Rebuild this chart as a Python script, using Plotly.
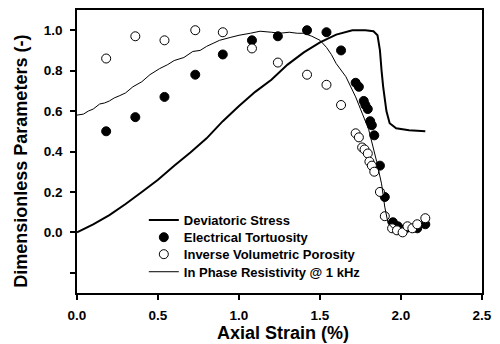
import plotly.graph_objects as go

# Deviatoric stress (thick line)
dev_x = [0, 0.1, 0.2, 0.3, 0.4, 0.5, 0.6, 0.7, 0.8, 0.9, 1.0, 1.1, 1.2, 1.3, 1.4, 1.5, 1.6, 1.7,
         1.78, 1.83, 1.855, 1.87, 1.88, 1.89, 1.91, 1.93, 1.97, 2.05, 2.15]
dev_y = [0, 0.04, 0.085, 0.14, 0.2, 0.26, 0.33, 0.395, 0.465, 0.55, 0.625, 0.695, 0.755, 0.83, 0.89, 0.94, 0.978, 1.0,
         1.0, 0.995, 0.975, 0.90, 0.80, 0.72, 0.60, 0.54, 0.515, 0.505, 0.50]

# Electrical tortuosity (filled circles)
tort_x = [0.18, 0.36, 0.54, 0.73, 0.90, 1.08, 1.24, 1.42, 1.54, 1.63, 1.72, 1.74, 1.77, 1.78, 1.795,
          1.81, 1.82, 1.835, 1.87, 1.90, 1.95, 1.98, 2.03, 2.10, 2.15]
tort_y = [0.50, 0.57, 0.67, 0.78, 0.88, 0.95, 0.97, 1.00, 0.99, 0.90, 0.74, 0.72, 0.65, 0.63, 0.61,
          0.55, 0.53, 0.48, 0.33, 0.175, 0.05, 0.03, 0.02, 0.02, 0.04]

# Inverse volumetric porosity (open circles)
por_x = [0.18, 0.36, 0.54, 0.73, 0.90, 1.08, 1.24, 1.42, 1.54, 1.63, 1.72, 1.74, 1.76, 1.775, 1.795,
         1.805, 1.82, 1.835, 1.87, 1.90, 1.945, 1.975, 2.01, 2.04, 2.07, 2.10, 2.15]
por_y = [0.86, 0.97, 0.95, 1.00, 0.99, 0.91, 0.84, 0.78, 0.73, 0.63, 0.49, 0.47, 0.42, 0.41, 0.39,
         0.35, 0.33, 0.30, 0.20, 0.08, 0.02, 0.01, 0.00, 0.03, 0.02, 0.04, 0.07]

# In phase resistivity @ 1 kHz (thin line)
res_x = [0, 0.04, 0.07, 0.1, 0.14, 0.17, 0.2, 0.23, 0.26, 0.3, 0.345, 0.4, 0.45, 0.51, 0.56, 0.6, 0.66,
         0.715, 0.76, 0.8, 0.84, 0.88, 0.95, 1.0, 1.07, 1.13, 1.2, 1.25, 1.31, 1.36, 1.4, 1.45, 1.5,
         1.54, 1.57, 1.6, 1.66, 1.72, 1.76, 1.8, 1.85, 1.88, 1.9, 1.92, 1.95]
res_y = [0.58, 0.585, 0.6, 0.61, 0.635, 0.64, 0.65, 0.665, 0.675, 0.69, 0.72, 0.745, 0.78, 0.81, 0.83,
         0.85, 0.865, 0.895, 0.9, 0.92, 0.935, 0.95, 0.965, 0.975, 0.985, 0.995, 0.99, 0.985, 0.99, 0.985,
         0.985, 0.97, 0.95, 0.915, 0.88, 0.835, 0.77, 0.67, 0.59, 0.51, 0.35, 0.24, 0.125, 0.045, 0.02]

y_ticks = [-0.2, 0.0, 0.2, 0.4, 0.6, 0.8, 1.0]
y_tick_text = ["", "0.0", "0.2", "0.4", "0.6", "0.8", "1.0"]
x_ticks = [0.0, 0.5, 1.0, 1.5, 2.0, 2.5]
x_tick_text = ["0.0", "0.5", "1.0", "1.5", "2.0", "2.5"]
x_title = "Axial Strain (%)"
y_title = "Dimensionless Parameters (-)"

FONT = "Liberation Sans, Arial, sans-serif"
LEG_FONT = dict(family=FONT, size=13, weight="bold", color="black")
TITLE_FONT = dict(family=FONT, size=18, weight="bold", color="black")

fig = go.Figure()
fig.add_trace(go.Scatter(x=dev_x, y=dev_y, mode="lines", name="Deviatoric Stress",
                         line=dict(color="black", width=2), legend="legend"))
fig.add_trace(go.Scatter(x=tort_x, y=tort_y, mode="markers", name="Electrical Tortuosity",
                         marker=dict(color="black", size=9, line=dict(color="black", width=1)),
                         legend="legend2"))
fig.add_trace(go.Scatter(x=por_x, y=por_y, mode="markers", name="Inverse Volumetric Porosity",
                         marker=dict(color="white", size=9, line=dict(color="black", width=1)),
                         legend="legend3"))
fig.add_trace(go.Scatter(x=res_x, y=res_y, mode="lines", name="In Phase Resistivity @ 1 kHz",
                         line=dict(color="black", width=1), legend="legend4"))


def leg(yv):
    return dict(x=0.165, y=yv, xanchor="left", yanchor="middle",
                bgcolor="rgba(0,0,0,0)", font=LEG_FONT, itemwidth=30)


fig.update_layout(
    width=500, height=344,
    margin=dict(l=77, r=18, t=10, b=51, autoexpand=False),
    paper_bgcolor="white", plot_bgcolor="white",
    font=dict(family=FONT, color="black", size=12),
    legend=leg(0.258), legend2=leg(0.197), legend3=leg(0.137), legend4=leg(0.075),
    showlegend=True,
    annotations=[
        dict(text=x_title, xref="paper", yref="paper", x=0.508, y=-0.1413,
             xanchor="center", yanchor="middle", showarrow=False, font=TITLE_FONT),
        dict(text=y_title, xref="paper", yref="paper", x=-0.139, y=0.4664,
             xanchor="center", yanchor="middle", textangle=-90, showarrow=False, font=TITLE_FONT),
    ],
)
fig.update_xaxes(range=[0, 2.5], tickvals=x_ticks, ticktext=x_tick_text, automargin=False,
                 ticks="outside", ticklen=5, tickwidth=1.5, tickcolor="black",
                 showline=True, linecolor="black", linewidth=1.5, mirror=True,
                 showgrid=False, zeroline=False, ticklabelstandoff=4,
                 tickfont=dict(family=FONT, size=13.5, weight="bold"))
fig.update_yaxes(range=[-0.3, 1.1], tickvals=y_ticks, ticktext=y_tick_text, automargin=False,
                 ticks="outside", ticklen=5, tickwidth=1.5, tickcolor="black",
                 showline=True, linecolor="black", linewidth=1.5, mirror=True,
                 showgrid=False, zeroline=False, ticklabelstandoff=5,
                 tickfont=dict(family=FONT, size=13.5, weight="bold"))

fig.write_html("out.html")
